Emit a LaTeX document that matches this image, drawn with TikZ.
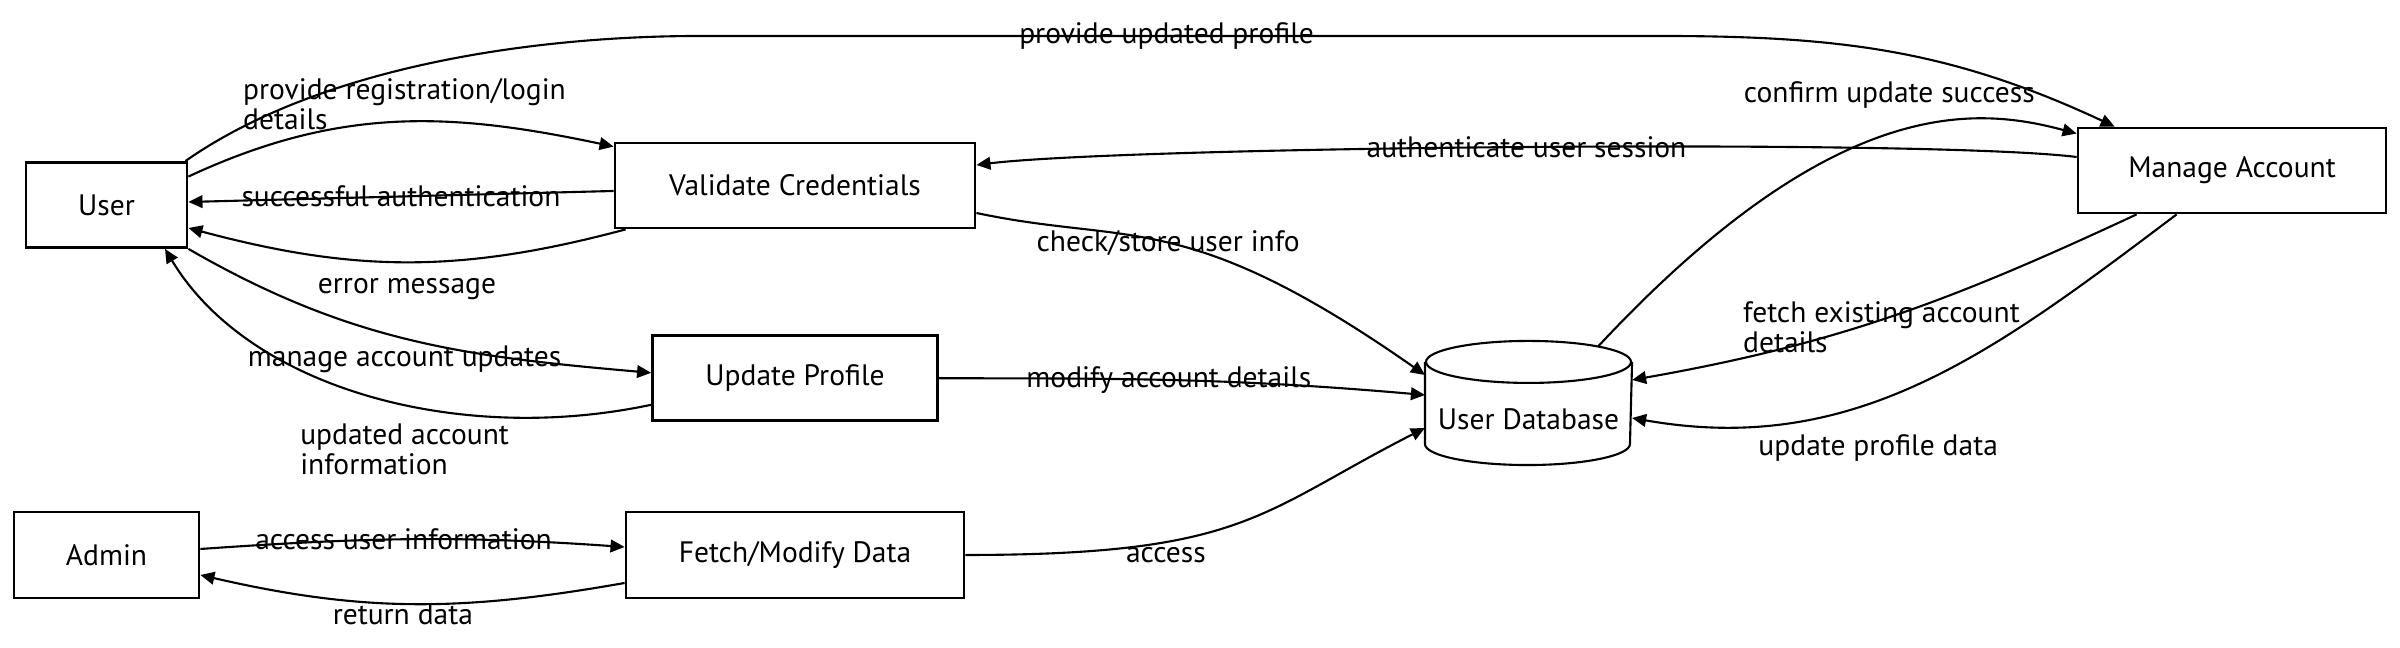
\documentclass[tikz,border=0pt]{standalone}
\usepackage{fontspec}
\setmainfont{PT Sans}
\usetikzlibrary{arrows.meta,positioning}

\begin{document}
\begin{tikzpicture}[->,>={Triangle[length=4pt,width=3.6pt]},line width=0.6pt,
                    proc/.style={draw,rectangle,line width=0.8pt,minimum height=0.85cm,inner sep=0pt,
                                 font=\fontsize{8.4}{8.5}\selectfont},
                    store/.style={rectangle,minimum width=2.05cm,minimum height=1.22cm,inner sep=0pt,
                                  text height=0.54cm,text depth=0pt,font=\fontsize{8.4}{8.5}\selectfont},
                    lbl/.style={inner sep=1pt,font=\fontsize{8.4}{8.5}\selectfont}]
  \useasboundingbox (0,0) rectangle (24,6.48);

  \node[proc,minimum width=1.61cm]         (user)   at (1.065,4.43)  {User};
  \node[proc,minimum width=3.60cm]         (valid)  at (7.95,4.625)  {Validate Credentials};
  \node[proc,minimum width=2.85cm]         (update) [below=1.05cm of valid] {Update Profile};
  \node[proc,minimum width=1.85cm,minimum height=0.86cm] (admin) at (1.065,0.93) {Admin};
  \node[proc,minimum width=3.38cm,minimum height=0.86cm] (fetch) at (7.95,0.93) {Fetch/Modify Data};
  \node[proc,minimum width=3.08cm]         (manage) at (22.32,4.775) {Manage Account};
  \node[store]                             (db)     at (15.285,2.45) {User Database};

%  cylinder outline of the store
  \draw[-] ([yshift=-2.1mm]db.north) ellipse [x radius=1.025cm,y radius=2.1mm];
  \draw[-] ([yshift=-2.1mm]db.north west) -- ([yshift=2.1mm]db.south west)
           arc [start angle=180,end angle=360,x radius=1.025cm,y radius=2.1mm]
           -- ([yshift=-2.1mm]db.north east);

  \draw ([xshift=-0.3mm]user.north east) to[out=35,in=180,looseness=0.8] (7,6.12)
        -- node[lbl,pos=0.486] (lprof) {provide updated profile} (16.6,6.12)
        to[out=0,in=155] ([xshift=3.8mm]manage.north west);

  \path ([yshift=-1.55mm]user.north east)
            edge[out=25,in=168] node[lbl,align=left,xshift=0.8mm,yshift=1.8mm] (lreg) {provide registration/login\\details} ([yshift=-0.5mm]valid.north west)
        ([yshift=-0.55mm]valid.west)
            edge node[lbl] (lsucc) {successful authentication} ([yshift=0.3mm]user.east)
        ([xshift=1.2mm]valid.south west)
            edge[out=195,in=-15] node[lbl,below,yshift=-1.2mm] (lerr) {error message} ([yshift=-2.3mm]user.east)
        (user.south east)
            edge[out=-30,in=175] node[lbl,xshift=-0.6mm,yshift=-2mm] (lman) {manage account updates} ([yshift=0.55mm]update.west)
        ([yshift=-2.65mm]update.west)
            edge[out=192,in=-59,out looseness=0.98,in looseness=0.82]
            node[lbl,align=left,pos=0.4,xshift=-1.7mm,yshift=-4.1mm] (lupd) {updated account\\information} ([xshift=5.85mm]user.south)
        ([yshift=-2.75mm]valid.east)
            edge[out=-12,in=145,out looseness=0.84,in looseness=1.57] node[lbl] (lchk) {check/store user info} ([yshift=2.8mm]db.west)
        ([yshift=1.35mm]manage.west)
            edge[out=173,in=7,looseness=0.35] node[lbl] (lauth) {authenticate user session} ([yshift=2.05mm]valid.east)
        (update.east)
            edge[out=0,in=175] node[lbl,pos=0.47] (lmod) {modify account details} ([yshift=0.8mm]db.west)
        (fetch.east)
            edge[out=0,in=207,out looseness=1.5] node[lbl,pos=0.32,yshift=-1.3mm] (lacc) {access} ([yshift=-2.5mm]db.west)
        ([yshift=0.6mm]admin.east)
            edge[out=4,in=176] node[lbl,xshift=-0.9mm] (linfo) {access user information} ([yshift=0.8mm]fetch.west)
        ([yshift=-2.8mm]fetch.west)
            edge[out=190,in=-13] node[lbl,below,xshift=-0.9mm,yshift=0.5mm] (lret) {return data} ([yshift=-2mm]admin.east)
        ([xshift=6.95mm,yshift=-0.56mm]db.north)
            edge[out=47,in=165,out looseness=1.7,in looseness=0.5] node[lbl,yshift=4mm] (lconf) {confirm update success} ([yshift=-0.7mm]manage.north west)
        ([xshift=6mm]manage.south west)
            edge[out=205,in=10] node[lbl,align=left,xshift=-0.9mm,yshift=-1.1mm] (lfetch) {fetch existing account\\details} ([yshift=2.3mm]db.east)
        ([xshift=10mm]manage.south west)
            edge[out=217,in=-10] node[lbl,pos=0.6,xshift=1mm,yshift=-4.5mm] (lpdata) {update profile data} ([yshift=-1.5mm]db.east);

\end{tikzpicture}
\end{document}
